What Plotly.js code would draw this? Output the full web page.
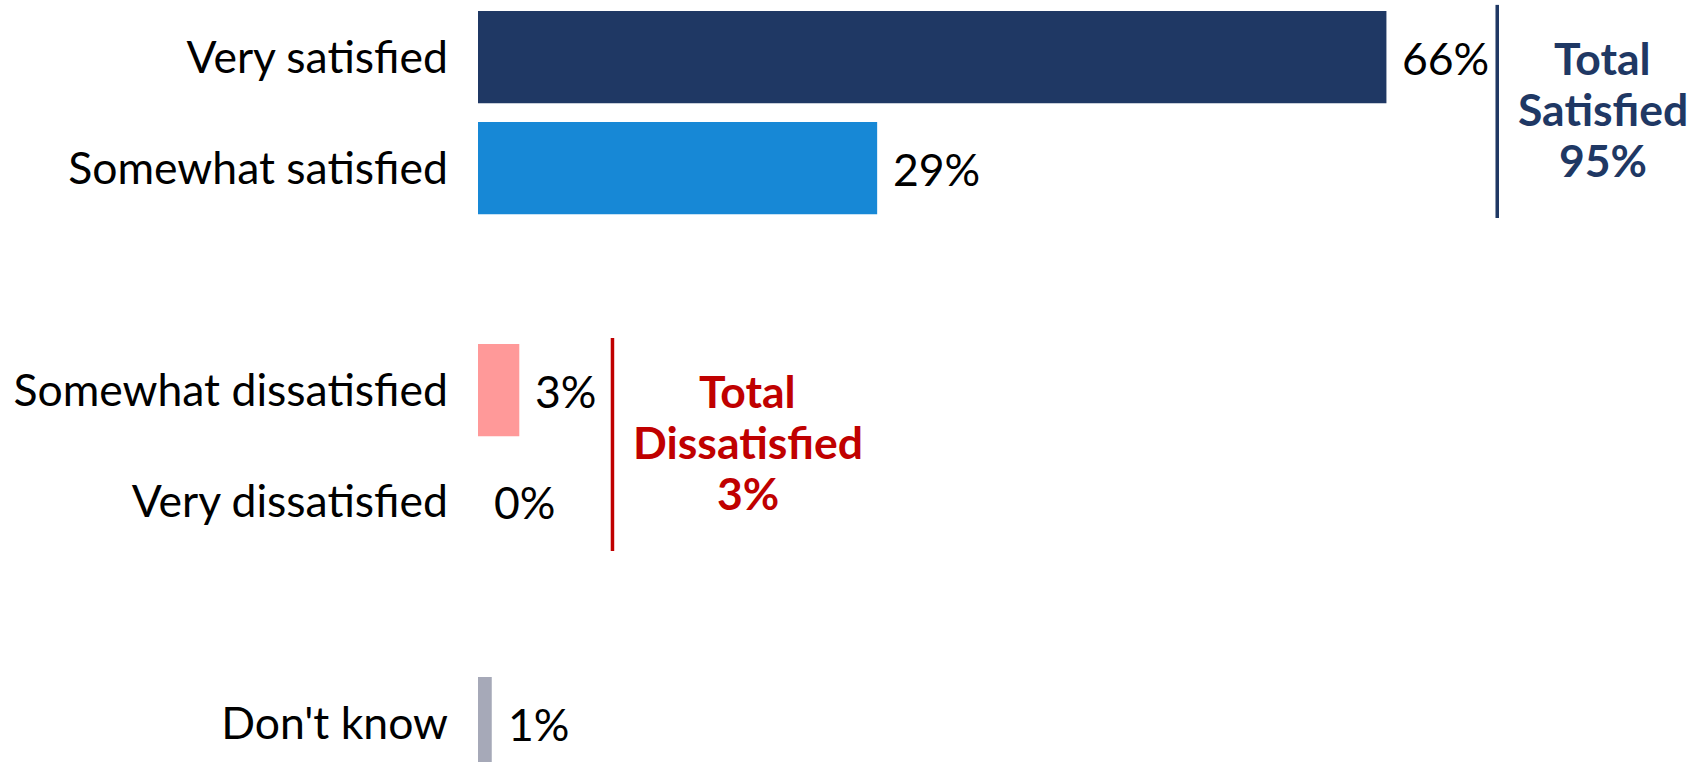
<!DOCTYPE html>
<html>
<head>
<meta charset="utf-8">
<script src="https://cdn.plot.ly/plotly-3.0.1.min.js"></script>
<style>html,body{margin:0;padding:0;background:#fff;}#chart{width:1703px;height:762px;}</style>
</head>
<body>
<div id="chart"></div>
<script>
// ---- data ----
const categories = ['Very satisfied', 'Somewhat satisfied', 'Somewhat dissatisfied', 'Very dissatisfied', "Don't know"];
const values = [66, 29, 3, 0, 1];
const groupOf = [0, 0, 1, 1, 2];
const totalNames = ['Satisfied', 'Dissatisfied'];
const totalValues = [95, 3];

// ---- styles ----
const barColors = ['#1F3864', '#1788D6', '#FF9999', '#C00000', '#A6A9B8'];
const totalColors = ['#1F3864', '#C00000'];
const bracketLineX = [74.05, 9.77];
const bracketTextX = [81.7, 19.6];
const FONT = 'Lato, Carlito, Calibri, "Open Sans", sans-serif';
const FS = 44.5;

const positions = categories.map((c, i) => i + groupOf[i]);

const trace = {
  type: 'bar',
  orientation: 'h',
  x: values,
  y: positions,
  width: 0.83,
  marker: {color: barColors, line: {width: 0}},
  hoverinfo: 'skip'
};

const annotations = [];
values.forEach((v, i) => {
  annotations.push({
    x: v, y: positions[i], xref: 'x', yref: 'y',
    text: v + '%', showarrow: false, xanchor: 'left', yanchor: 'middle',
    xshift: 14, font: {family: FONT, size: FS, color: '#000'}
  });
});

const shapes = [];
totalNames.forEach((name, g) => {
  const idx = positions.filter((p, i) => groupOf[i] === g);
  const start = Math.min(...idx), end = Math.max(...idx);
  shapes.push({
    type: 'line', xref: 'x', yref: 'y',
    x0: bracketLineX[g], x1: bracketLineX[g], y0: start - 0.47, y1: end + 0.45,
    line: {color: totalColors[g], width: 3.5}
  });
  const lines = ['Total', name, totalValues[g] + '%'];
  lines.forEach((t, k) => {
    annotations.push({
      x: bracketTextX[g], y: start + k * 0.46, xref: 'x', yref: 'y',
      text: '<b>' + t + '</b>', showarrow: false, xanchor: 'center', yanchor: 'middle',
      font: {family: FONT, size: FS, color: totalColors[g]}
    });
  });
});

const layout = {
  width: 1703, height: 762,
  margin: {l: 478, r: 0, t: 0, b: 0, pad: 0},
  paper_bgcolor: '#fff', plot_bgcolor: '#fff',
  showlegend: false,
  xaxis: {range: [0, 89.0], visible: false, fixedrange: true},
  yaxis: {
    range: [6.35, -0.514],
    tickvals: positions, ticktext: categories,
    showgrid: false, zeroline: false, showline: false,
    ticks: '', ticklabelstandoff: 29,
    tickfont: {family: FONT, size: FS, color: '#000'},
    fixedrange: true
  },
  annotations: annotations,
  shapes: shapes
};

Plotly.newPlot('chart', [trace], layout, {displayModeBar: false, staticPlot: true});
</script>
</body>
</html>
